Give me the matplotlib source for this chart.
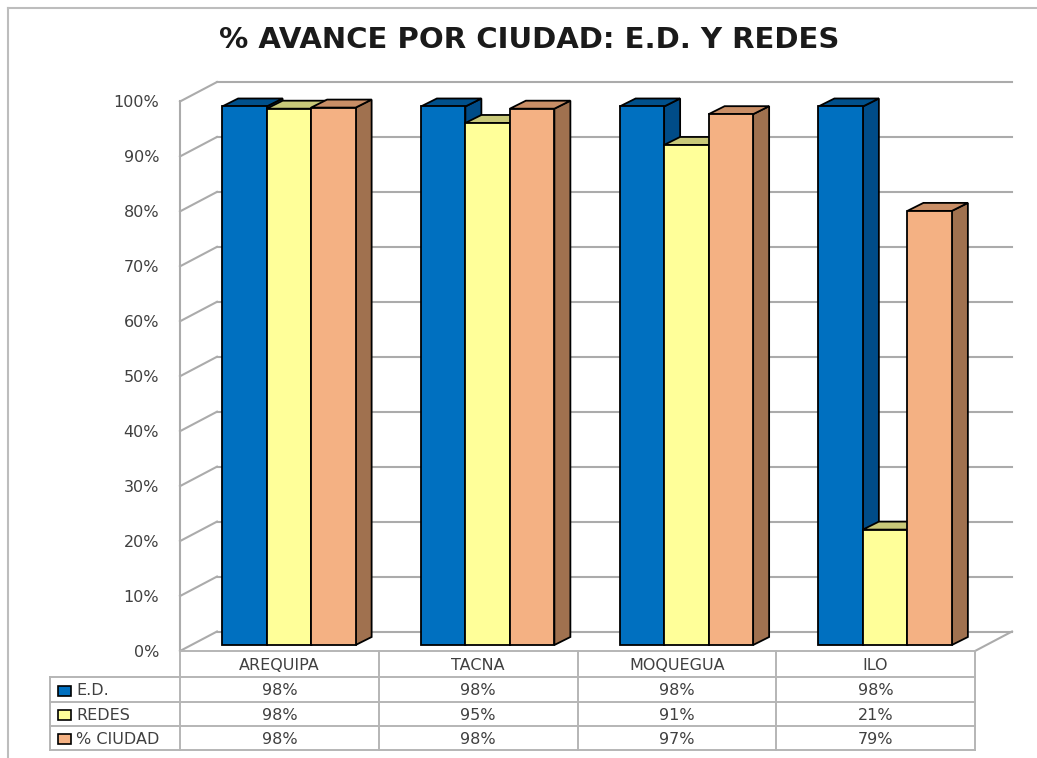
import matplotlib
matplotlib.use("Agg")
import matplotlib.pyplot as plt
from matplotlib.patches import Polygon, Rectangle

# ---- data ----
title = "% AVANCE POR CIUDAD: E.D. Y REDES"
cities = ["AREQUIPA", "TACNA", "MOQUEGUA", "ILO"]
series_names = ["E.D.", "REDES", "% CIUDAD"]
ed = [0.98, 0.98, 0.98, 0.98]
redes = [0.976, 0.95, 0.91, 0.21]
ciudad = [0.978, 0.976, 0.966, 0.79]
table_ed = ["98%", "98%", "98%", "98%"]
table_redes = ["98%", "95%", "91%", "21%"]
table_ciudad = ["98%", "98%", "97%", "79%"]
yticks = [0.0, 0.1, 0.2, 0.3, 0.4, 0.5, 0.6, 0.7, 0.8, 0.9, 1.0]
ytick_labels = ["0%", "10%", "20%", "30%", "40%", "50%", "60%", "70%", "80%", "90%", "100%"]

# ---- style ----
W, H = 1037, 758
front_col = ["#0070C0", "#FFFF99", "#F4B183"]
top_col = ["#00508C", "#C9C979", "#C98E66"]
side_col = ["#004C88", "#BDBD6E", "#A0714F"]
grid_col = "#ABABAB"
text_col = "#404040"

fig = plt.figure(figsize=(W / 100, H / 100), dpi=100)

# front plane of the 3-D box in pixels
L, R, B, T = 180, 975, 651, 101.5
ax = fig.add_axes([L / W, (H - B) / H, (R - L) / W, (B - T) / H])
ax.set_xlim(-0.5, 3.5)
ax.set_ylim(0, 1)
for s in ax.spines.values():
    s.set_visible(False)
ax.set_xticks([])
ax.set_yticks(yticks)
ax.set_yticklabels(ytick_labels, fontsize=11.5, color=text_col)
ax.tick_params(axis="y", length=0, pad=15)
ax.patch.set_alpha(0)

pxx = (R - L) / 4.0   # pixels per category
pxy = (B - T)         # pixels per unit value
WX, WY = 37 / pxx, 19.5 / pxy      # wall depth
OX, OY = 9.5 / pxx, 6 / pxy        # bar front offset
BX, BY = 16 / pxx, 8 / pxy         # bar depth
bw = 44.5 / pxx

# walls / gridlines
for t in yticks:
    ax.plot([-0.5 + WX, 3.5 + WX], [t + WY, t + WY], color=grid_col, lw=1.5,
            clip_on=False, zorder=0)
    ax.plot([-0.5, -0.5 + WX], [t, t + WY], color=grid_col, lw=1.5,
            clip_on=False, zorder=0)
ax.plot([-0.5, -0.5], [0, 1], color=grid_col, lw=1.5, clip_on=False, zorder=0)
ax.plot([3.5, 3.5 + WX], [0, WY], color=grid_col, lw=1.5, clip_on=False, zorder=0)

# bars
all_series = [ed, redes, ciudad]
z = 2
for i in range(len(cities)):
    for k, vals in enumerate(all_series):
        v = vals[i]
        x0 = i + OX + (k - 1.5) * bw
        top = OY + v
        side = Polygon([(x0 + bw, OY), (x0 + bw + BX, OY + BY),
                        (x0 + bw + BX, top + BY), (x0 + bw, top)],
                       closed=True, fc=side_col[k], ec="black", lw=1.3,
                       zorder=z, clip_on=False)
        topp = Polygon([(x0, top), (x0 + bw, top), (x0 + bw + BX, top + BY),
                        (x0 + BX, top + BY)],
                       closed=True, fc=top_col[k], ec="black", lw=1.3,
                       zorder=z, clip_on=False)
        ax.add_patch(side)
        ax.add_patch(topp)
        ax.bar([x0], [v], width=bw, bottom=OY, align="edge", color=front_col[k],
               edgecolor="black", linewidth=1.3, zorder=z + 1, clip_on=False)
        z += 2

# ---- overlay for title, table, border ----
ov = fig.add_axes([0, 0, 1, 1])
ov.set_xlim(0, W)
ov.set_ylim(H, 0)
ov.axis("off")
ov.patch.set_alpha(0)

ov.plot([8, W], [8, 8], color="#BDBDBD", lw=1.5)
ov.plot([8, 8], [8, H], color="#BDBDBD", lw=1.5)

ov.text(529, 40, title, ha="center", va="center", fontsize=21,
        fontweight="bold", color="#1A1A1A")

# table
cols = [L + i * pxx for i in range(5)]
rows_y = [651, 677, 702, 726, 750]
tcol = "#B5B5B5"
ov.plot([L, R], [rows_y[0], rows_y[0]], color=tcol, lw=1.4)
for y in rows_y[1:]:
    ov.plot([50, R], [y, y], color=tcol, lw=1.4)
for x in cols:
    ov.plot([x, x], [rows_y[0], rows_y[-1]], color=tcol, lw=1.4)
ov.plot([50, 50], [rows_y[1], rows_y[-1]], color=tcol, lw=1.4)

for i, c in enumerate(cities):
    cx = (cols[i] + cols[i + 1]) / 2
    ov.text(cx, (rows_y[0] + rows_y[1]) / 2 + 1, c, ha="center", va="center",
            fontsize=11.5, color=text_col)
table_rows = [table_ed, table_redes, table_ciudad]
for r, (name, labels) in enumerate(zip(series_names, table_rows)):
    yc = (rows_y[r + 1] + rows_y[r + 2]) / 2 + 1
    ov.add_patch(Rectangle((58, yc - 5), 13, 10, fc=front_col[r], ec="black", lw=1.2))
    ov.text(76, yc, name, ha="left", va="center", fontsize=11.5, color=text_col)
    for i, lab in enumerate(labels):
        cx = (cols[i] + cols[i + 1]) / 2
        ov.text(cx, yc, lab, ha="center", va="center", fontsize=11.5, color=text_col)

fig.savefig("out.png", dpi=100, facecolor="white")
